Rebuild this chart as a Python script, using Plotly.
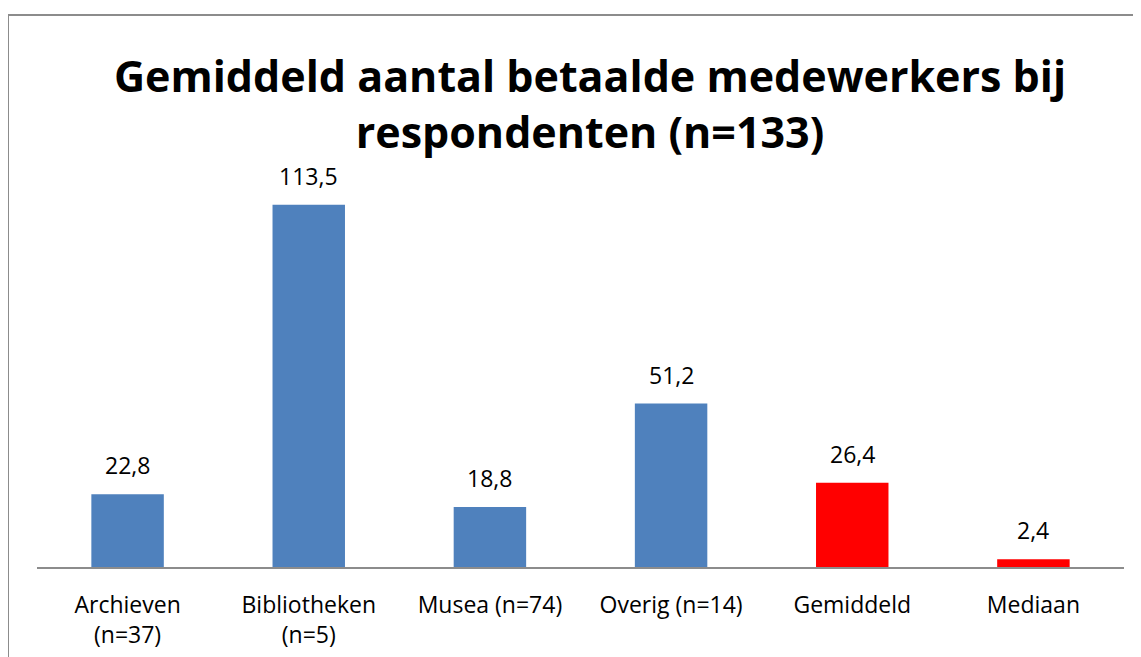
import plotly.graph_objects as go

categories = ["Archieven<br>(n=37)", "Bibliotheken<br>(n=5)", "Musea (n=74)", "Overig (n=14)", "Gemiddeld", "Mediaan"]
values = [22.8, 113.5, 18.8, 51.2, 26.4, 2.4]
colors = ["#4F81BD", "#4F81BD", "#4F81BD", "#4F81BD", "#FF0000", "#FF0000"]
title = "Gemiddeld aantal betaalde medewerkers bij<br>respondenten (n=133)"

labels = [f"{v:.1f}".replace(".", ",") for v in values]

# page body has an 8px margin; figure coordinates = screen - 8
W, H = 1133, 649
L, R, T, B = 29, 17, 176, 90
pw, ph = W - L - R, H - T - B

def px_x(px):
    return (px - L) / pw

def px_y(py):
    return (H - B - py) / ph

FONT = "Open Sans, sans-serif"

fig = go.Figure(go.Bar(
    x=categories, y=values, marker=dict(color=colors, line=dict(width=0)),
))

for c, v, t in zip(categories, values, labels):
    fig.add_annotation(x=c, y=v, text=t, showarrow=False, xref="x", yref="y",
                       yanchor="bottom", yshift=11,
                       font=dict(family=FONT, size=23, color="#000000"))

fig.update_layout(
    width=W, height=H,
    margin=dict(l=L, r=R, t=T, b=B, autoexpand=False),
    paper_bgcolor="white", plot_bgcolor="white",
    bargap=0.6,
    showlegend=False,
    title=dict(text=title, x=582 / W, xanchor="center", y=1 - 84 / H, yanchor="middle",
               font=dict(family=FONT, size=43, color="#000000", weight="bold")),
    xaxis=dict(showline=True, linecolor="#8C8C8C", linewidth=2, ticks="",
               tickfont=dict(family=FONT, size=23, color="#000000"),
               ticklabelstandoff=16, automargin=False,
               showgrid=False, fixedrange=True),
    yaxis=dict(range=[0, 120], visible=False, showgrid=False, zeroline=False, automargin=False),
    shapes=[dict(type="rect", xref="paper", yref="paper",
                 x0=px_x(0), x1=px_x(1150), y0=px_y(665), y1=px_y(7),
                 line=dict(color="#8C8C8C", width=2), fillcolor="rgba(0,0,0,0)", layer="below")],
)

fig.write_html("out.html")
